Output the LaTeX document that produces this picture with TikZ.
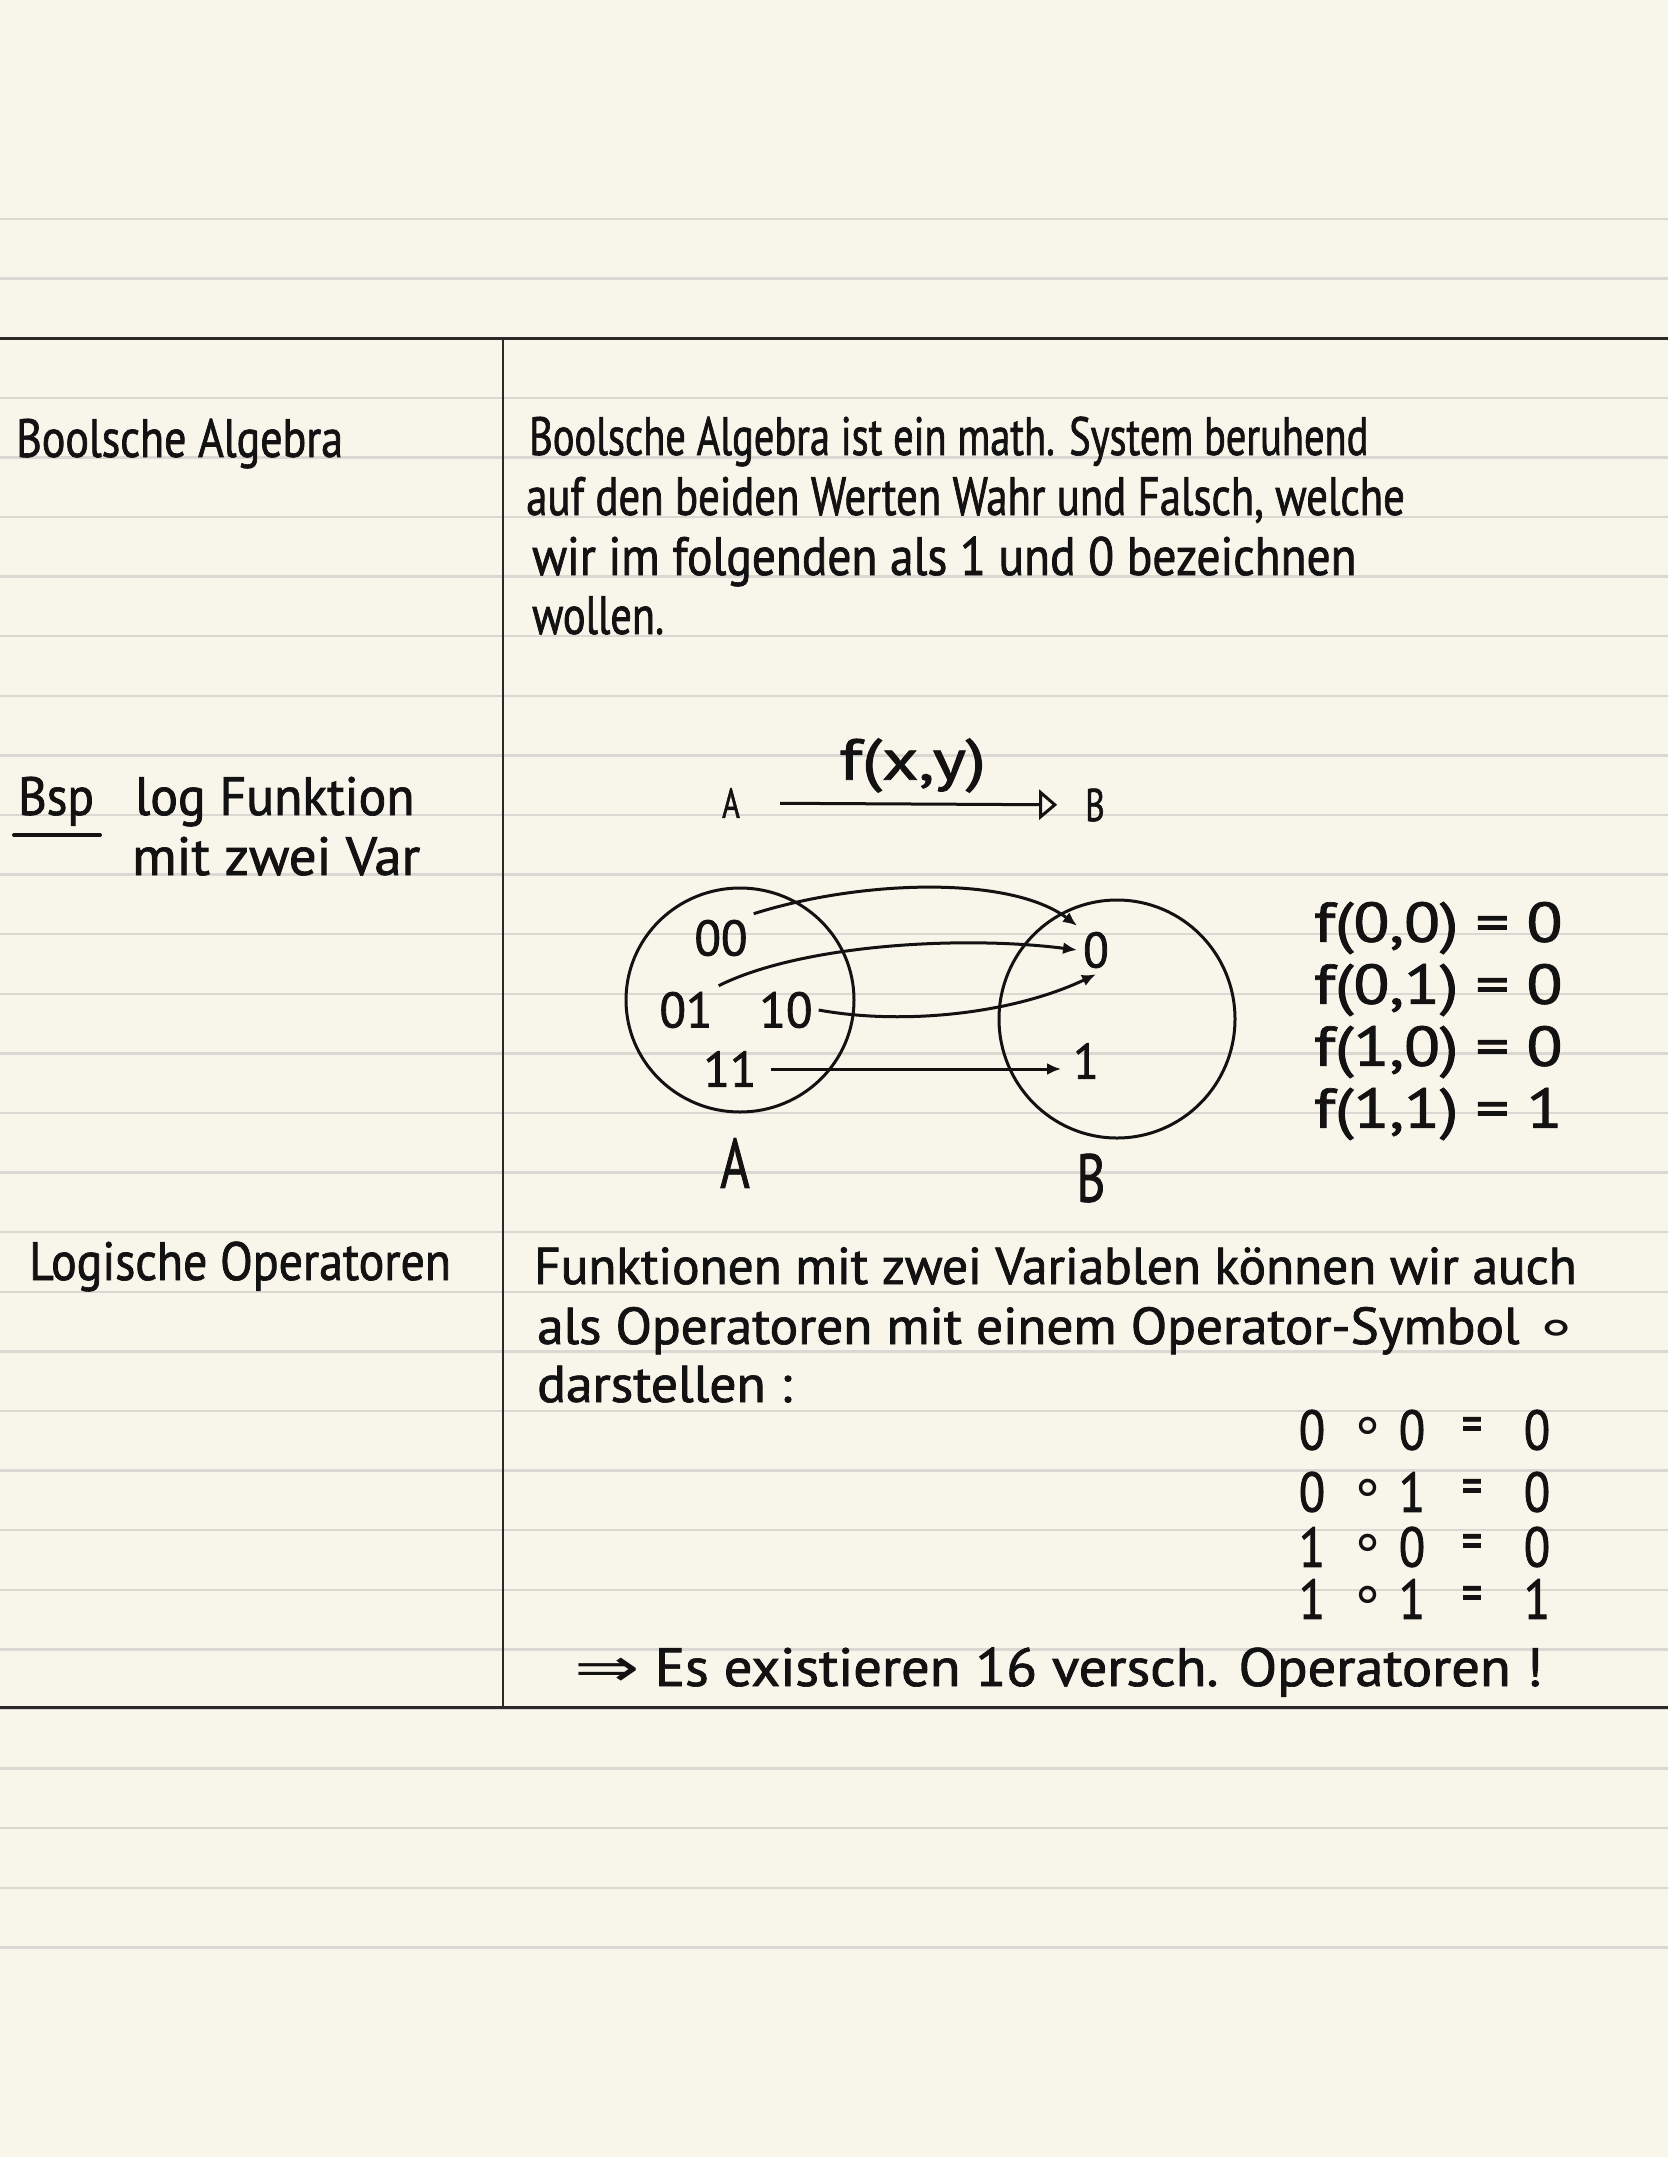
\documentclass[tikz,border=0pt]{standalone}
\usepackage{graphicx}
\usepackage{fontspec}
\newfontfamily\handfont[FakeStretch=0.72,FakeBold=1.2]{PT Sans}
\newfontfamily\symfont{DejaVu Sans}
\newcommand\stretchx[2]{\scalebox{#1}[1]{#2}}
\usetikzlibrary{arrows.meta,shapes.geometric}
\definecolor{paper}{HTML}{F8F6EA}
\definecolor{ruling}{HTML}{D9D8D3}
\definecolor{ink}{HTML}{121212}
\definecolor{frameline}{HTML}{2A2A2A}
\begin{document}
\begin{tikzpicture}[x=1pt,y=-1pt,
  hw/.style={font=\handfont\fontsize{#1}{#1}\selectfont, text=ink, inner sep=0pt},
  hw/.default=54,
  textline/.style={hw=#1, anchor=base west},
  textline/.default=54,
  pen/.style={draw=ink, line width=3pt},
  tip/.style={-{Latex[length=14pt,width=12pt]}},
  setshape/.style={pen, ellipse, inner sep=0pt},
  elem/.style={hw=50, inner sep=6pt},
  opcell/.style={hw=56, anchor=center}
]
% paper and ruling
\fill[paper] (0,0) rectangle (1668,2157);
\useasboundingbox (0,0) rectangle (1668,2157);
\foreach \k in {0,...,29} {
  \draw[ruling, line width=2.4pt] (0,{219+59.6*\k}) -- (1668,{219+59.6*\k});
}
% table frame
\draw[frameline, line width=3.4pt] (0,338.5) -- (1668,338.5);
\draw[frameline, line width=3.4pt] (0,1707.5) -- (1668,1707.5);
\draw[frameline, line width=2pt] (503,338.5) -- (503,1707.5);

% --- row 1: Boolesche Algebra
\node[textline] (t1) at (16,457) {\stretchx{1.13}{Boolsche Algebra}};
\node[textline] (p1) at (529,455) {\stretchx{1.04}{Boolsche Algebra ist ein math. System beruhend}};
\node[textline] (p2) at (526,515) {\stretchx{1.10}{auf den beiden Werten Wahr und Falsch, welche}};
\node[textline] (p3) at (532,575) {\stretchx{1.22}{wir im folgenden als 1 und 0 bezeichnen}};
\node[textline] (p4) at (532,634) {\stretchx{1.09}{wollen.}};

% --- row 2: example
\node[textline] (bsp) at (18,815) {\stretchx{1.26}{Bsp}};
\draw[pen, line width=4pt, line cap=round] (bsp.base west) ++(-4,20) -- ++(86,0);
\node[textline] (logf) at (135,815) {\stretchx{1.33}{log Funktion}};
\node[textline] (mzv) at (132,875) {\stretchx{1.41}{mit zwei Var}};

\node[hw=42] (topA) at (731,803) {A};
\node[hw=46] (topB) at (1095,805) {B};
\draw[pen, -{Triangle[open,length=18pt,width=30pt]}, shorten <=40pt, shorten >=28pt]
  (topA) -- (topB) node[midway, above=10pt, hw=58] (fxy) {\stretchx{1.7}{f(x,y)}};

\node[setshape, minimum width=228pt, minimum height=224pt] (setA) at (740,1000) {};
\node[setshape, minimum width=236pt, minimum height=238pt] (setB) at (1117,1019) {};

\node[elem] (a00) at (721,938) {\stretchx{1.35}{00}};
\node[elem] (a01) at (686,1010) {\stretchx{1.35}{01}};
\node[elem] (a10) at (786,1010) {\stretchx{1.35}{10}};
\node[elem] (a11) at (730,1069) {\stretchx{1.35}{11}};
\node[elem] (b0) at (1096,950) {\stretchx{1.3}{0}};
\node[elem] (b1) at (1086,1061) {\stretchx{1.3}{1}};

\draw[pen, tip] (a00.north east) .. controls (860,880) and (1010,875) .. (b0.north west);
\draw[pen, tip] (a01.north east) .. controls (800,945) and (960,935) .. (b0.west);
\draw[pen, tip] (a10.east) .. controls (900,1025) and (1010,1015) .. (b0.south);
\draw[pen, tip, shorten <=8pt, shorten >=6pt] (a11.east) -- (a11.east -| b1.west);

\node[hw=70] (labA) at (735,1163) {A};
\node[hw=68] (labB) at (1091,1178) {B};

\node[hw=56, anchor=west] (f00) at (1314,928) {\stretchx{1.63}{f(0,0) = 0}};
\node[hw=56, anchor=west] (f01) at (1314,990) {\stretchx{1.63}{f(0,1) = 0}};
\node[hw=56, anchor=west] (f10) at (1314,1052) {\stretchx{1.63}{f(1,0) = 0}};
\node[hw=56, anchor=west] (f11) at (1314,1114) {\stretchx{1.63}{f(1,1) = 1}};

% --- row 3: logical operators
\node[textline] (t3) at (29,1280) {\stretchx{1.23}{Logische Operatoren}};
\node[textline=52] (q1) at (534,1284) {\stretchx{1.37}{Funktionen mit zwei Variablen können wir auch}};
\node[textline=52] (q2) at (537,1344) {\stretchx{1.42}{als Operatoren mit einem Operator-Symbol {\symfont ∘}}};
\node[textline=52] (q3) at (537,1402) {\stretchx{1.43}{darstellen :}};

\foreach \y/\a/\b/\c [count=\r] in {1430/0/0/0, 1492/0/1/0, 1547/1/0/0, 1599/1/1/1} {
  \node[opcell] (op\r a) at (1312,\y) {\stretchx{1.2}{\a}};
  \node[opcell] (op\r o) at (1368,\y) {\symfont ∘};
  \node[opcell] (op\r b) at (1412,\y) {\stretchx{1.2}{\b}};
  \node[opcell] (op\r e) at (1472,\y) {=};
  \node[opcell] (op\r c) at (1537,\y) {\stretchx{1.2}{\c}};
}

\node[textline] (concl) at (574,1686) {\stretchx{1.45}{{\symfont ⇒} Es existieren 16 versch. Operatoren !}};
\end{tikzpicture}
\end{document}
